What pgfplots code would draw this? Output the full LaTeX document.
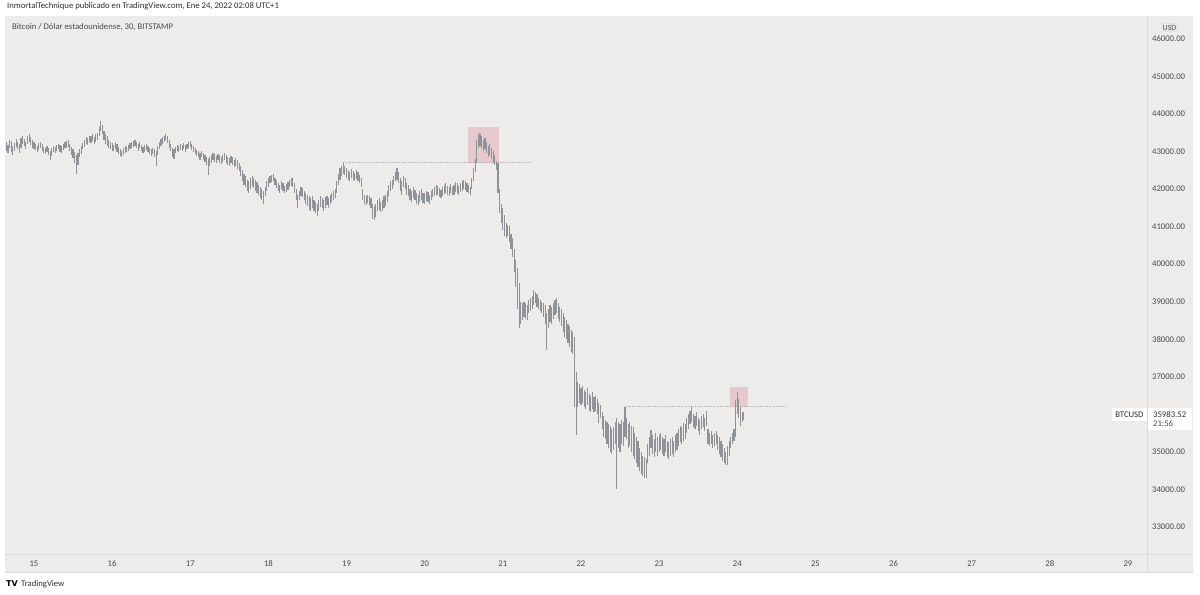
\documentclass[border=0pt]{standalone}
\usepackage{pgfplots}
\pgfplotsset{compat=1.18}
\usepackage{pgfplotstable}
\usepackage{fontspec}
\setmainfont{Carlito}
\newfontfamily\logofont{DejaVu Sans}
\definecolor{panel}{HTML}{EDECEB}
\definecolor{divider}{HTML}{DCDAD9}
\definecolor{barcol}{HTML}{8F9297}
\definecolor{pinkbox}{HTML}{E6C9CD}
\definecolor{txt}{HTML}{4A4A4A}
\definecolor{hdr}{HTML}{2E2E2E}
\definecolor{dotc}{HTML}{B4B4B4}

\pgfplotstableread{
k h l
-17 43250 43020
-16 43180 42950
-15 43300 43080
-14 43280 42980
-13 43150 42900
-12 43230 43010
-11 43320 43120
-10 43260 43050
-9 43200 42960
-8 43350 43100
-7 43400 43200
-6 43330 43150
-5 43250 43060
-4 43420 43200
-3 43450 43250
-2 43380 43170
-1 43300 43100
0 43240 43060
1 43200 43030
2 43150 42990
3 43220 43040
4 43260 43090
5 43190 43020
6 43120 42960
7 43080 42920
8 43140 42980
9 43100 42900
10 43000 42760
11 43080 42880
12 43150 42980
13 43120 42960
14 43180 43000
15 43200 43050
16 43160 42980
17 43130 42950
18 43200 43030
19 43240 43080
20 43270 43100
21 43310 43120
22 43200 43020
23 43120 42900
24 43050 42820
25 42980 42700
26 42900 42400
27 42950 42650
28 43050 42850
29 43150 42920
30 43220 43050
31 43300 43120
32 43380 43200
33 43350 43180
34 43420 43250
35 43400 43220
36 43460 43280
37 43380 43200
38 43450 43250
39 43500 43300
40 43650 43420
41 43820 43550
42 43700 43450
43 43550 43300
44 43450 43200
45 43400 43150
46 43300 43100
47 43250 43050
48 43220 43020
49 43180 43000
50 43240 43060
51 43200 42980
52 43120 42920
53 43060 42880
54 43000 42850
55 43080 42900
56 43150 42960
57 43120 42980
58 43180 43020
59 43220 43060
60 43250 43100
61 43280 43120
62 43300 43140
63 43240 43080
64 43200 43020
65 43260 43100
66 43180 43000
67 43120 42950
68 43160 42980
69 43200 43040
70 43140 42980
71 43080 42920
72 43050 42880
73 43100 42920
74 43060 42860
75 43000 42620
76 43150 42900
77 43250 43050
78 43320 43150
79 43380 43200
80 43420 43250
81 43470 43300
82 43400 43220
83 43300 43100
84 43200 43000
85 43100 42850
86 43050 42800
87 43120 42950
88 43180 43020
89 43150 42980
90 43200 43040
91 43180 43000
92 43220 43060
93 43160 42980
94 43200 43050
95 43250 43100
96 43270 43120
97 43200 43040
98 43150 42980
99 43080 42920
100 43040 42880
101 43000 42840
102 42960 42780
103 43020 42850
104 42950 42780
105 42900 42720
106 42850 42650
107 42800 42360
108 42850 42600
109 42900 42700
110 42950 42760
111 42920 42720
112 42880 42680
113 42940 42760
114 42900 42700
115 42850 42660
116 42900 42720
117 42950 42780
118 42900 42700
119 42860 42650
120 42820 42620
121 42880 42680
122 42850 42640
123 42780 42580
124 42820 42600
125 42760 42520
126 42700 42480
127 42620 42350
128 42500 42200
129 42400 42100
130 42350 42050
131 42250 41950
132 42200 41900
133 42300 42000
134 42350 42080
135 42300 42020
136 42250 41950
137 42180 41900
138 42100 41850
139 42050 41750
140 42000 41700
141 41950 41600
142 42050 41800
143 42200 41950
144 42300 42050
145 42350 42150
146 42380 42180
147 42400 42200
148 42300 42100
149 42250 42020
150 42150 41950
151 42100 41900
152 42200 42000
153 42150 41950
154 42080 41880
155 42120 41920
156 42180 41980
157 42250 42050
158 42300 42080
159 42280 42060
160 42150 41900
161 42000 41700
162 41850 41500
163 41950 41700
164 42050 41800
165 42030 41780
166 41950 41700
167 41900 41600
168 41850 41550
169 41800 41450
170 41750 41420
171 41800 41500
172 41700 41400
173 41650 41350
174 41600 41290
175 41700 41420
176 41800 41520
177 41750 41480
178 41700 41420
179 41780 41500
180 41820 41560
181 41750 41480
182 41850 41600
183 41900 41650
184 41950 41700
185 42000 41750
186 42200 41900
187 42400 42100
188 42550 42250
189 42600 42350
190 42700 42400
191 42600 42380
192 42550 42300
193 42500 42250
194 42450 42220
195 42520 42280
196 42480 42240
197 42420 42200
198 42500 42260
199 42450 42220
200 42380 42150
201 42300 42050
202 42000 41700
203 41850 41600
204 41800 41560
205 41850 41620
206 41820 41580
207 41750 41500
208 41600 41200
209 41550 41160
210 41600 41250
211 41700 41400
212 41750 41450
213 41650 41380
214 41700 41420
215 41800 41500
216 41850 41550
217 41950 41650
218 42100 41800
219 42200 41950
220 42250 42000
221 42350 42100
222 42450 42200
223 42570 42250
224 42450 42150
225 42300 41950
226 42200 41850
227 42350 42050
228 42300 42000
229 42150 41850
230 42100 41800
231 42000 41700
232 41950 41650
233 42050 41750
234 41980 41700
235 41900 41600
236 41850 41560
237 41950 41650
238 42000 41700
239 41900 41620
240 41880 41600
241 41950 41680
242 41920 41650
243 41850 41600
244 41950 41700
245 42000 41780
246 42050 41800
247 42100 41850
248 42080 41830
249 42020 41780
250 41980 41750
251 42050 41820
252 42100 41860
253 42150 41900
254 42080 41850
255 42050 41800
256 42120 41880
257 42060 41830
258 42100 41850
259 42180 41930
260 42150 41900
261 42080 41850
262 42150 41920
263 42200 41950
264 42250 42000
265 42200 41980
266 42150 41920
267 42100 41880
268 42050 41850
269 42300 42000
270 42550 42200
271 42800 42450
272 43300 42700
273 43500 43100
274 43450 43150
275 43400 43100
276 43300 43000
277 43350 43050
278 43250 42950
279 43150 42850
280 43200 42900
281 43100 42800
282 43000 42700
283 42900 42650
284 42750 42500
285 42700 41900
286 42000 41350
287 41600 41100
288 41500 40900
289 41300 40750
290 41100 40700
291 41050 40750
292 41000 40600
293 40800 40400
294 40700 40200
295 40400 39800
296 40100 39400
297 39900 38800
298 39500 38290
299 39000 38400
300 38950 38500
301 39000 38600
302 38950 38550
303 38900 38500
304 39050 38700
305 39100 38750
306 39150 38800
307 39300 38900
308 39250 38950
309 39200 38850
310 39100 38800
311 39050 38750
312 39000 38700
313 38950 38600
314 38900 38400
315 38700 37700
316 38800 38300
317 38900 38450
318 38850 38400
319 38950 38550
320 39050 38650
321 39100 38700
322 38950 38550
323 38850 38450
324 38800 38350
325 38700 38200
326 38600 38050
327 38500 38000
328 38400 37900
329 38350 37800
330 38250 37650
331 38200 37600
332 38050 36200
333 37120 35440
334 36850 36200
335 36800 36300
336 36700 36250
337 36750 36300
338 36650 36200
339 36600 36150
340 36700 36250
341 36550 36100
342 36500 36050
343 36600 36150
344 36450 36050
345 36500 36100
346 36400 36000
347 36300 35760
348 36250 35900
349 36050 35600
350 35950 35400
351 35850 35350
352 35800 35200
353 35750 35100
354 35700 35000
355 35600 34950
356 35650 35050
357 35800 35200
358 35900 34010
359 35800 35100
360 35750 35000
361 35850 35200
362 35800 35150
363 36200 35400
364 35900 35350
365 35750 35100
366 35800 35150
367 35700 35000
368 35650 34900
369 35500 34800
370 35400 34700
371 35300 34600
372 35100 34500
373 35000 34400
374 34900 34350
375 34850 34300
376 34800 34300
377 35200 34700
378 35400 34900
379 35570 35100
380 35450 34950
381 35350 34850
382 35500 35000
383 35400 34900
384 35450 35000
385 35500 35050
386 35400 34950
387 35350 34900
388 35450 35000
389 35300 34850
390 35250 34800
391 35350 34900
392 35400 34950
393 35300 34850
394 35450 35000
395 35500 35050
396 35600 35150
397 35700 35250
398 35650 35200
399 35760 35300
400 35750 35350
401 35900 35500
402 36000 35600
403 36100 35750
404 36190 35800
405 36000 35650
406 35950 35600
407 36050 35700
408 35900 35550
409 35850 35450
410 35950 35600
411 36000 35650
412 35900 35550
413 36100 35700
414 35600 35200
415 35500 35150
416 35550 35200
417 35450 35100
418 35500 35150
419 35550 35200
420 35450 35050
421 35400 34950
422 35300 34850
423 35200 34750
424 35100 34700
425 35000 34640
426 35150 34650
427 35300 34900
428 35400 35100
429 35500 35200
430 35600 35300
431 36370 35400
432 36590 36000
433 36400 35900
434 36200 35700
435 36050 35800
436 36050 35850
}\bars

\begin{document}
\fontsize{8.7}{10}\selectfont
\begin{tikzpicture}
\begin{scope}[x=1bp,y=1bp]
% page and panels
\fill[white] (0,0) rectangle (1200,595);
\fill[panel] (5,22) rectangle (1193,579);
\draw[divider, line width=0.8bp] (1147.5,22) -- (1147.5,579);
\draw[divider, line width=0.8bp] (5,41) -- (1193,41);
\draw[divider, line width=0.8bp] (5,22.4) -- (1193,22.4);
\end{scope}

\begin{axis}[
  at={(5bp,41bp)}, anchor=south west,
  scale only axis, width=1142.5bp, height=538bp,
  xmin=14.6289, xmax=29.25, ymin=32281, ymax=46604,
  axis line style={draw=none}, major tick length=0pt,
  scaled x ticks=false, scaled y ticks=false,
  xtick={15,16,...,29},
  ytick={33000,34000,35000,37000,38000,39000,40000,41000,42000,43000,44000,45000,46000},
  yticklabel pos=right,
  /pgf/number format/assume math mode=true,
  xticklabel={\pgfmathprintnumber[int detect]{\tick}},
  yticklabel={\pgfmathprintnumber[fixed,fixed zerofill,precision=2,1000 sep={}]{\tick}},
  xticklabel style={anchor=center, yshift=-10bp, text=txt},
  yticklabel style={anchor=west, xshift=1.5bp, text=txt},
  clip=true,
]
% highlighted zones
\addplot[fill=pinkbox, draw=none] coordinates {(20.550,42699) (20.951,42699) (20.951,43657) (20.550,43657)} -- cycle;
\addplot[fill=pinkbox, draw=none] coordinates {(23.907,36202) (24.141,36202) (24.141,36735) (23.907,36735)} -- cycle;
% resistance lines
\addplot[dotc, densely dotted, line width=0.8bp] coordinates {(18.958,42699) (21.360,42699)};
\addplot[dotc, densely dotted, line width=0.8bp] coordinates {(22.5625,36200) (24.611,36200)};
% high-low ranges of the 30-minute bars
\addplot[barcol, line width=1.15bp, quiver={u=0, v=\thisrow{h}-\thisrow{l}}]
  table[x expr={\thisrow{k}/48+15}, y=l] {\bars};
\end{axis}

\begin{scope}[x=1bp,y=1bp]
% header texts
\node[anchor=west, inner sep=0pt, text=hdr] at (7,588.3) {InmortalTechnique publicado en TradingView.com, Ene 24, 2022 02:08 UTC+1};
\node[anchor=west, inner sep=0pt, text=txt] at (12,568.3) {Bitcoin / Dólar estadounidense, 30, BITSTAMP};
% currency box
\node[draw=divider, fill=panel, rounded corners=1.5bp, inner sep=1.2bp, text=txt, font=\fontsize{8}{9}\selectfont] at (1169.5,567.5) {USD};
% last price labels
\fill[white] (1112,174) rectangle (1147,187);
\node[text=hdr, inner sep=0pt] at (1129.5,180.5) {BTCUSD};
\fill[white] (1148,165) rectangle (1192,187);
\node[anchor=west, inner sep=0pt, text=hdr] at (1153,180.5) {35983.52};
\node[anchor=west, inner sep=0pt, text=txt] at (1153,171.5) {21:56};
% footer
\node[anchor=west, inner sep=0pt, font=\logofont\bfseries\fontsize{8}{9}\selectfont] at (6,11) {TV};
\node[anchor=west, inner sep=0pt, text=hdr] at (21,11) {TradingView};
\end{scope}
\end{tikzpicture}
\end{document}
